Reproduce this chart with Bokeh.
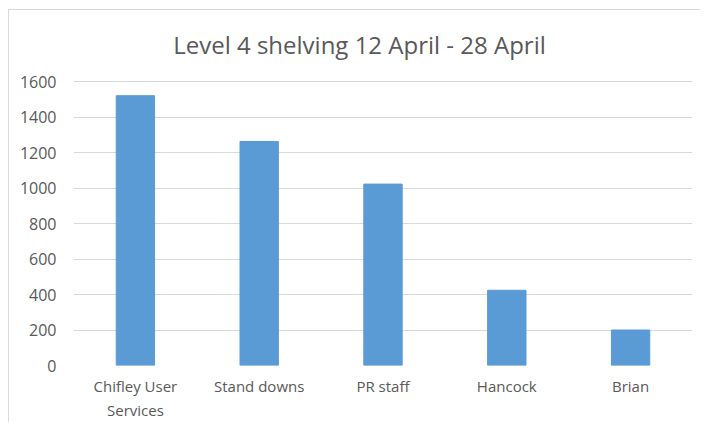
from bokeh.plotting import figure
from bokeh.models import ColumnDataSource, Range1d, FixedTicker, Label
from bokeh.embed import file_html
from bokeh.resources import INLINE

title_text = "Level 4 shelving 12 April - 28 April"
categories = ["Chifley User\nServices", "Stand downs", "PR staff", "Hancock", "Brian"]
values = [1520, 1262, 1022, 424, 200]
y_ticks = [0, 200, 400, 600, 800, 1000, 1200, 1400, 1600]

src = ColumnDataSource(dict(cat=categories, val=values))

# frame extends up to the chart top so that the title label (inside the frame) is not clipped
p = figure(x_range=categories, y_range=Range1d(0, 2000),
           width=691, height=406, frame_width=619, frame_height=355,
           min_border_left=64, min_border_right=8, min_border_top=0, min_border_bottom=51,
           output_backend="svg", toolbar_location=None)
p.styles = {"margin-left": "8px", "margin-top": "9px",
            "border-left": "1px solid #d9d9d9", "border-top": "1px solid #d9d9d9"}

p.vbar(x="cat", top="val", width=0.31, source=src, color="#5b9bd5", line_color="#5b9bd5")

title = Label(x=2.31, y=1808, text=title_text, text_align="center", text_baseline="middle",
              text_font="Open Sans", text_font_size="24px", text_color="#595959")
p.add_layout(title)

p.outline_line_color = None
p.xgrid.grid_line_color = None
p.ygrid.grid_line_color = "#d9d9d9"
p.ygrid.grid_line_width = 1
p.yaxis.ticker = FixedTicker(ticks=y_ticks)

for ax in (p.xaxis[0], p.yaxis[0]):
    ax.axis_line_color = None
    ax.major_tick_line_color = None
    ax.minor_tick_line_color = None
    ax.major_label_text_color = "#595959"
    ax.major_label_text_font = "Open Sans"
    ax.major_label_text_font_size = "15px"

p.yaxis.major_label_text_font_size = "16px"
p.yaxis.major_label_standoff = 11
p.xaxis.major_label_standoff = 4

open("out.html", "w").write(file_html(p, INLINE))
